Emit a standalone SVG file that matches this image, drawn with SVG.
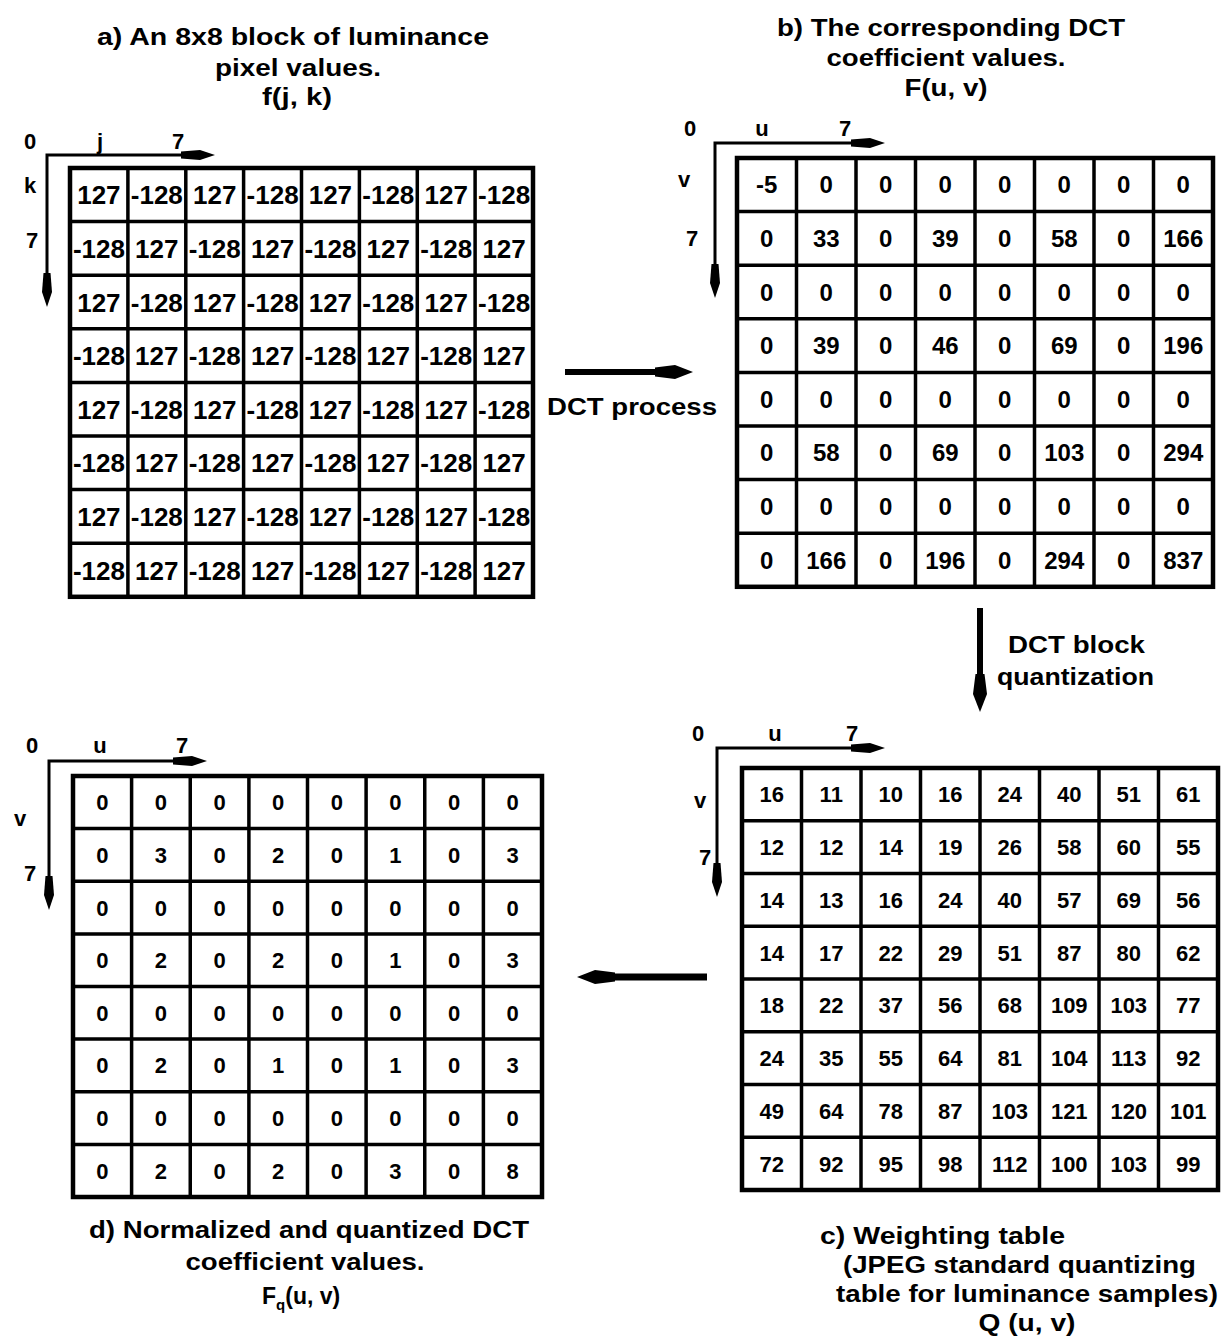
<svg xmlns="http://www.w3.org/2000/svg" width="1223" height="1341" viewBox="0 0 1223 1341">
<style>
text{font-family:"Liberation Sans",Arial,Helvetica,sans-serif;font-weight:bold;fill:#000}
.ttl{font-size:23px}
.mid{text-anchor:middle}
.ax{font-size:22px;text-anchor:middle}
.na{font-size:26px;text-anchor:middle}
.nb{font-size:24px;text-anchor:middle}
.nc{font-size:22px;text-anchor:middle}
.nd{font-size:22px;text-anchor:middle}
.grid{fill:none;stroke:#000;stroke-width:3.5}
.frame{fill:#fff;stroke:#000;stroke-width:4.5}
.axis{fill:none;stroke:#000;stroke-width:3;marker-start:url(#ahs);marker-end:url(#ah)}
.flow{fill:none;stroke:#000;stroke-width:6;marker-end:url(#mh)}
</style>
<defs>
<marker id="ah" markerUnits="userSpaceOnUse" markerWidth="46" markerHeight="18" refX="28" refY="9" orient="auto">
<path d="M42,9 L27,4 L8,5.5 L8,12.5 L27,14 Z" fill="#000"/>
</marker>
<marker id="ahs" markerUnits="userSpaceOnUse" markerWidth="46" markerHeight="18" refX="28" refY="9" orient="auto-start-reverse">
<path d="M42,9 L27,4 L8,5.5 L8,12.5 L27,14 Z" fill="#000"/>
</marker>
<marker id="mh" markerUnits="userSpaceOnUse" markerWidth="52" markerHeight="22" refX="32" refY="11" orient="auto">
<path d="M48,11 L30,4 L10,6.5 L10,15.5 L30,18 Z" fill="#000"/>
</marker>
<text id="aE" class="na"><tspan x="28.9">127</tspan><tspan x="86.8">-128</tspan><tspan x="144.7">127</tspan><tspan x="202.6">-128</tspan><tspan x="260.4">127</tspan><tspan x="318.3">-128</tspan><tspan x="376.2">127</tspan><tspan x="434.1">-128</tspan></text>
<text id="aO" class="na"><tspan x="28.9">-128</tspan><tspan x="86.8">127</tspan><tspan x="144.7">-128</tspan><tspan x="202.6">127</tspan><tspan x="260.4">-128</tspan><tspan x="318.3">127</tspan><tspan x="376.2">-128</tspan><tspan x="434.1">127</tspan></text>
<text id="bZ" class="nb"><tspan x="29.75">0</tspan><tspan x="89.25">0</tspan><tspan x="148.75">0</tspan><tspan x="208.25">0</tspan><tspan x="267.75">0</tspan><tspan x="327.25">0</tspan><tspan x="386.75">0</tspan><tspan x="446.25">0</tspan></text>
<text id="dZ" class="nd"><tspan x="29.3">0</tspan><tspan x="87.9">0</tspan><tspan x="146.6">0</tspan><tspan x="205.2">0</tspan><tspan x="263.8">0</tspan><tspan x="322.4">0</tspan><tspan x="381.1">0</tspan><tspan x="439.7">0</tspan></text>
</defs>
<rect width="1223" height="1341" fill="#fff"/>

<g id="block-a">
<text class="ttl mid" x="293" y="45" textLength="392" lengthAdjust="spacingAndGlyphs">a)  An 8x8 block of luminance</text>
<text class="ttl mid" x="298" y="76" textLength="166" lengthAdjust="spacingAndGlyphs">pixel values.</text>
<text class="ttl mid" x="297" y="105" textLength="70" lengthAdjust="spacingAndGlyphs">f(j, k)</text>
<path class="axis" d="M47,293 L47,155 L201,155"/>
<text class="ax" x="30" y="149">0</text>
<text class="ax" x="100" y="149">j</text>
<text class="ax" x="178" y="149">7</text>
<text class="ax" x="30" y="193">k</text>
<text class="ax" x="32" y="248">7</text>
<g transform="translate(70,168)">
<rect class="frame" x="0" y="0" width="463" height="428.8"/>
<path class="grid" d="M57.9,0V428.8M115.8,0V428.8M173.6,0V428.8M231.5,0V428.8M289.4,0V428.8M347.3,0V428.8M405.1,0V428.8M0,53.6H463M0,107.2H463M0,160.8H463M0,214.4H463M0,268H463M0,321.6H463M0,375.2H463"/>
<use href="#aE" y="36.3"/>
<use href="#aO" y="89.9"/>
<use href="#aE" y="143.5"/>
<use href="#aO" y="197.1"/>
<use href="#aE" y="250.7"/>
<use href="#aO" y="304.3"/>
<use href="#aE" y="357.9"/>
<use href="#aO" y="411.5"/>
</g>
</g>

<g id="block-b">
<text class="ttl mid" x="951" y="36" textLength="348" lengthAdjust="spacingAndGlyphs">b) The corresponding DCT</text>
<text class="ttl mid" x="946" y="66" textLength="239" lengthAdjust="spacingAndGlyphs">coefficient values.</text>
<text class="ttl mid" x="946" y="96" textLength="83" lengthAdjust="spacingAndGlyphs">F(u, v)</text>
<path class="axis" d="M715,284 L715,143 L871,143"/>
<text class="ax" x="690" y="136">0</text>
<text class="ax" x="762" y="136">u</text>
<text class="ax" x="845" y="136">7</text>
<text class="ax" x="684" y="187">v</text>
<text class="ax" x="692" y="246">7</text>
<g transform="translate(737,158)">
<rect class="frame" x="0" y="0" width="476" height="428.8"/>
<path class="grid" d="M59.5,0V428.8M119,0V428.8M178.5,0V428.8M238,0V428.8M297.5,0V428.8M357,0V428.8M416.5,0V428.8M0,53.6H476M0,107.2H476M0,160.8H476M0,214.4H476M0,268H476M0,321.6H476M0,375.2H476"/>
<text class="nb" y="35.3"><tspan x="29.75">-5</tspan><tspan x="89.25">0</tspan><tspan x="148.75">0</tspan><tspan x="208.25">0</tspan><tspan x="267.75">0</tspan><tspan x="327.25">0</tspan><tspan x="386.75">0</tspan><tspan x="446.25">0</tspan></text>
<text class="nb" y="88.9"><tspan x="29.75">0</tspan><tspan x="89.25">33</tspan><tspan x="148.75">0</tspan><tspan x="208.25">39</tspan><tspan x="267.75">0</tspan><tspan x="327.25">58</tspan><tspan x="386.75">0</tspan><tspan x="446.25">166</tspan></text>
<use href="#bZ" y="142.5"/>
<text class="nb" y="196.1"><tspan x="29.75">0</tspan><tspan x="89.25">39</tspan><tspan x="148.75">0</tspan><tspan x="208.25">46</tspan><tspan x="267.75">0</tspan><tspan x="327.25">69</tspan><tspan x="386.75">0</tspan><tspan x="446.25">196</tspan></text>
<use href="#bZ" y="249.7"/>
<text class="nb" y="303.3"><tspan x="29.75">0</tspan><tspan x="89.25">58</tspan><tspan x="148.75">0</tspan><tspan x="208.25">69</tspan><tspan x="267.75">0</tspan><tspan x="327.25">103</tspan><tspan x="386.75">0</tspan><tspan x="446.25">294</tspan></text>
<use href="#bZ" y="356.9"/>
<text class="nb" y="410.5"><tspan x="29.75">0</tspan><tspan x="89.25">166</tspan><tspan x="148.75">0</tspan><tspan x="208.25">196</tspan><tspan x="267.75">0</tspan><tspan x="327.25">294</tspan><tspan x="386.75">0</tspan><tspan x="446.25">837</tspan></text>
</g>
</g>

<g id="block-c">
<text class="ttl" x="820" y="1244" textLength="245" lengthAdjust="spacingAndGlyphs">c)  Weighting table</text>
<text class="ttl" x="843" y="1273" textLength="353" lengthAdjust="spacingAndGlyphs">(JPEG standard quantizing</text>
<text class="ttl" x="836" y="1302" textLength="382" lengthAdjust="spacingAndGlyphs">table for luminance samples)</text>
<text class="ttl mid" x="1027" y="1331" textLength="97" lengthAdjust="spacingAndGlyphs">Q (u, v)</text>
<path class="axis" d="M717,883 L717,748 L871,748"/>
<text class="ax" x="698" y="741">0</text>
<text class="ax" x="775" y="741">u</text>
<text class="ax" x="852" y="741">7</text>
<text class="ax" x="700" y="808">v</text>
<text class="ax" x="705" y="865">7</text>
<g transform="translate(742,768)">
<rect class="frame" x="0" y="0" width="476" height="422"/>
<path class="grid" d="M59.5,0V422M119,0V422M178.5,0V422M238,0V422M297.5,0V422M357,0V422M416.5,0V422M0,52.75H476M0,105.5H476M0,158.25H476M0,211H476M0,263.75H476M0,316.5H476M0,369.25H476"/>
<text class="nc" y="34.4"><tspan x="29.75">16</tspan><tspan x="89.25">11</tspan><tspan x="148.75">10</tspan><tspan x="208.25">16</tspan><tspan x="267.75">24</tspan><tspan x="327.25">40</tspan><tspan x="386.75">51</tspan><tspan x="446.25">61</tspan></text>
<text class="nc" y="87.1"><tspan x="29.75">12</tspan><tspan x="89.25">12</tspan><tspan x="148.75">14</tspan><tspan x="208.25">19</tspan><tspan x="267.75">26</tspan><tspan x="327.25">58</tspan><tspan x="386.75">60</tspan><tspan x="446.25">55</tspan></text>
<text class="nc" y="139.9"><tspan x="29.75">14</tspan><tspan x="89.25">13</tspan><tspan x="148.75">16</tspan><tspan x="208.25">24</tspan><tspan x="267.75">40</tspan><tspan x="327.25">57</tspan><tspan x="386.75">69</tspan><tspan x="446.25">56</tspan></text>
<text class="nc" y="192.6"><tspan x="29.75">14</tspan><tspan x="89.25">17</tspan><tspan x="148.75">22</tspan><tspan x="208.25">29</tspan><tspan x="267.75">51</tspan><tspan x="327.25">87</tspan><tspan x="386.75">80</tspan><tspan x="446.25">62</tspan></text>
<text class="nc" y="245.4"><tspan x="29.75">18</tspan><tspan x="89.25">22</tspan><tspan x="148.75">37</tspan><tspan x="208.25">56</tspan><tspan x="267.75">68</tspan><tspan x="327.25">109</tspan><tspan x="386.75">103</tspan><tspan x="446.25">77</tspan></text>
<text class="nc" y="298.1"><tspan x="29.75">24</tspan><tspan x="89.25">35</tspan><tspan x="148.75">55</tspan><tspan x="208.25">64</tspan><tspan x="267.75">81</tspan><tspan x="327.25">104</tspan><tspan x="386.75">113</tspan><tspan x="446.25">92</tspan></text>
<text class="nc" y="350.9"><tspan x="29.75">49</tspan><tspan x="89.25">64</tspan><tspan x="148.75">78</tspan><tspan x="208.25">87</tspan><tspan x="267.75">103</tspan><tspan x="327.25">121</tspan><tspan x="386.75">120</tspan><tspan x="446.25">101</tspan></text>
<text class="nc" y="403.6"><tspan x="29.75">72</tspan><tspan x="89.25">92</tspan><tspan x="148.75">95</tspan><tspan x="208.25">98</tspan><tspan x="267.75">112</tspan><tspan x="327.25">100</tspan><tspan x="386.75">103</tspan><tspan x="446.25">99</tspan></text>
</g>
</g>

<g id="block-d">
<text class="ttl mid" x="309" y="1238" textLength="440" lengthAdjust="spacingAndGlyphs">d) Normalized and quantized DCT</text>
<text class="ttl mid" x="305" y="1270" textLength="239" lengthAdjust="spacingAndGlyphs">coefficient values.</text>
<text class="ttl" x="262" y="1304">F<tspan font-size="15" dy="6">q</tspan><tspan dy="-6">(u, v)</tspan></text>
<path class="axis" d="M49,896 L49,761 L193,761"/>
<text class="ax" x="32" y="753">0</text>
<text class="ax" x="100" y="753">u</text>
<text class="ax" x="182" y="753">7</text>
<text class="ax" x="20" y="826">v</text>
<text class="ax" x="30" y="881">7</text>
<g transform="translate(73,776)">
<rect class="frame" x="0" y="0" width="469" height="421"/>
<path class="grid" d="M58.6,0V421M117.25,0V421M175.9,0V421M234.5,0V421M293.1,0V421M351.75,0V421M410.4,0V421M0,52.6H469M0,105.25H469M0,157.9H469M0,210.5H469M0,263.1H469M0,315.75H469M0,368.4H469"/>
<use href="#dZ" y="34.3"/>
<text class="nd" y="86.9"><tspan x="29.3">0</tspan><tspan x="87.9">3</tspan><tspan x="146.6">0</tspan><tspan x="205.2">2</tspan><tspan x="263.8">0</tspan><tspan x="322.4">1</tspan><tspan x="381.1">0</tspan><tspan x="439.7">3</tspan></text>
<use href="#dZ" y="139.5"/>
<text class="nd" y="192.2"><tspan x="29.3">0</tspan><tspan x="87.9">2</tspan><tspan x="146.6">0</tspan><tspan x="205.2">2</tspan><tspan x="263.8">0</tspan><tspan x="322.4">1</tspan><tspan x="381.1">0</tspan><tspan x="439.7">3</tspan></text>
<use href="#dZ" y="244.8"/>
<text class="nd" y="297.4"><tspan x="29.3">0</tspan><tspan x="87.9">2</tspan><tspan x="146.6">0</tspan><tspan x="205.2">1</tspan><tspan x="263.8">0</tspan><tspan x="322.4">1</tspan><tspan x="381.1">0</tspan><tspan x="439.7">3</tspan></text>
<use href="#dZ" y="350.1"/>
<text class="nd" y="402.7"><tspan x="29.3">0</tspan><tspan x="87.9">2</tspan><tspan x="146.6">0</tspan><tspan x="205.2">2</tspan><tspan x="263.8">0</tspan><tspan x="322.4">3</tspan><tspan x="381.1">0</tspan><tspan x="439.7">8</tspan></text>
</g>
</g>

<g id="connectors">
<path class="flow" d="M565,372 L677,372"/>
<text class="ttl mid" x="632" y="415" textLength="170" lengthAdjust="spacingAndGlyphs">DCT process</text>
<path class="flow" d="M980,608 L980,696"/>
<text class="ttl" x="1008" y="653" textLength="137" lengthAdjust="spacingAndGlyphs">DCT block</text>
<text class="ttl" x="997" y="685" textLength="157" lengthAdjust="spacingAndGlyphs">quantization</text>
<path class="flow" d="M707,977 L593,977" style="stroke-width:7"/>
</g>
</svg>
